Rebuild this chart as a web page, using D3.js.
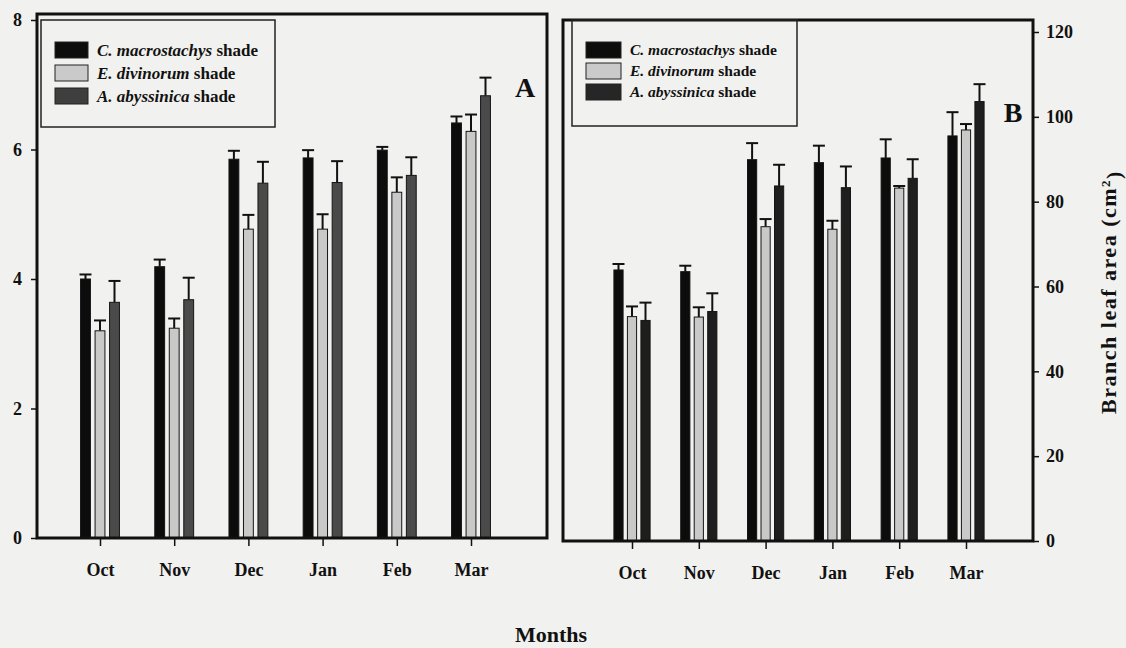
<!DOCTYPE html>
<html>
<head>
  <meta charset="utf-8">
  <style>
    html, body {
      margin: 0;
      overflow: hidden;
      background: #f1f1ef;
    }
    svg {
      display: block;
      font-family: "Liberation Serif", "Times New Roman", serif;
    }
    .frame {
      fill: none;
      stroke: #111;
      stroke-width: 3px;
    }
    .axis path {
      display: none;
    }
    .axis line {
      stroke: #111;
      stroke-width: 1.5px;
    }
    .axis text {
      font-family: "Liberation Serif", serif;
      font-weight: bold;
      fill: #111;
    }
    .err {
      stroke: #111;
      stroke-width: 2px;
    }
    .legend rect.box {
      fill: none;
      stroke: #222;
      stroke-width: 1.5px;
    }
  </style>
  <script src="https://d3js.org/d3.v7.min.js"></script>
</head>
<body>
  <svg id="chart" width="1126" height="648"></svg>
  <script>
    var months = ["Oct", "Nov", "Dec", "Jan", "Feb", "Mar"];
    var species = ["C. macrostachys", "E. divinorum", "A. abyssinica"];

    // panel A (left axis, 0-8)
    var aMacro = [4.00, 4.19, 5.85, 5.87, 5.99, 6.41];
    var aMacroErr = [0.07, 0.11, 0.13, 0.12, 0.05, 0.10];
    var aDivin = [3.20, 3.24, 4.77, 4.77, 5.34, 6.28];
    var aDivinErr = [0.16, 0.15, 0.22, 0.23, 0.23, 0.26];
    var aAbyss = [3.64, 3.68, 5.48, 5.49, 5.60, 6.83];
    var aAbyssErr = [0.33, 0.34, 0.33, 0.33, 0.28, 0.28];

    // panel B (branch leaf area, cm2)
    var bMacro = [63.9, 63.5, 89.9, 89.2, 90.3, 95.5];
    var bMacroErr = [1.4, 1.4, 3.9, 4.0, 4.4, 5.6];
    var bDivin = [52.9, 52.8, 74.1, 73.5, 83.2, 96.9];
    var bDivinErr = [2.4, 2.3, 1.8, 2.0, 0.5, 1.4];
    var bAbyss = [52.0, 54.1, 83.7, 83.3, 85.5, 103.6];
    var bAbyssErr = [4.2, 4.3, 5.0, 5.0, 4.5, 4.1];

    var ticksA = [0, 2, 4, 6, 8];
    var ticksB = [0, 20, 40, 60, 80, 100, 120];

    var svg = d3.select("#chart");

    function rows(means, errs) {
      var out = [];
      months.forEach(function(m, i) {
        species.forEach(function(s, j) {
          out.push({month: m, sp: s, v: means[j][i], e: errs[j][i]});
        });
      });
      return out;
    }

    function drawPanel(opt) {
      var g = svg.append("g");
      var x = d3.scalePoint().domain(months).range(opt.xRange);
      var inner = d3.scaleBand().domain(species)
        .range([-opt.groupW / 2, opt.groupW / 2])
        .paddingInner(0.32).paddingOuter(0.16);
      var y = d3.scaleLinear().domain(opt.yDomain).range(opt.yRange);

      var data = rows(opt.means, opt.errs);
      var cx = function(d) { return x(d.month) + inner(d.sp) + inner.bandwidth() / 2; };

      // error bars (upper only) behind bars
      var eb = g.selectAll(".eb").data(data).enter().append("g").attr("class", "eb");
      eb.append("line").attr("class", "err")
        .attr("x1", cx).attr("x2", cx)
        .attr("y1", function(d) { return y(d.v); })
        .attr("y2", function(d) { return y(d.v + d.e); });
      eb.append("line").attr("class", "err")
        .attr("x1", function(d) { return cx(d) - 6; })
        .attr("x2", function(d) { return cx(d) + 6; })
        .attr("y1", function(d) { return y(d.v + d.e); })
        .attr("y2", function(d) { return y(d.v + d.e); });

      g.selectAll(".bar").data(data).enter().append("rect")
        .attr("class", "bar")
        .attr("x", function(d) { return x(d.month) + inner(d.sp); })
        .attr("width", inner.bandwidth())
        .attr("y", function(d) { return y(d.v); })
        .attr("height", function(d) { return y(0) - y(d.v); })
        .attr("fill", function(d) { return opt.fills[species.indexOf(d.sp)]; })
        .attr("stroke", "#151515")
        .attr("stroke-width", 1);

      // frame
      g.append("rect").attr("class", "frame")
        .attr("x", opt.frame[0]).attr("y", opt.frame[1])
        .attr("width", opt.frame[2] - opt.frame[0])
        .attr("height", y(0) - opt.frame[1]);

      // month axis
      g.append("g").attr("class", "axis")
        .attr("transform", "translate(0," + y(0) + ")")
        .call(d3.axisBottom(x).tickSize(8).tickPadding(17))
        .selectAll("text").style("font-size", "18px");

      // value axis
      var ax = opt.side === "left"
        ? d3.axisLeft(y).tickValues(opt.ticks).tickSize(6).tickPadding(9)
        : d3.axisRight(y).tickValues(opt.ticks).tickSize(6).tickPadding(7);
      g.append("g").attr("class", "axis")
        .attr("transform", "translate(" + (opt.side === "left" ? opt.frame[0] : opt.frame[2]) + ",0)")
        .call(ax)
        .selectAll("text").style("font-size", "18px");

      // legend
      var lg = g.append("g").attr("class", "legend")
        .attr("transform", "translate(" + opt.legend.x + "," + opt.legend.y + ")");
      lg.append("rect").attr("class", "box")
        .attr("width", opt.legend.w).attr("height", opt.legend.h);
      species.forEach(function(s, i) {
        var row = lg.append("g").attr("transform", "translate(" + opt.legend.sx + "," + (opt.legend.top + i * opt.legend.gap) + ")");
        row.append("rect")
          .attr("width", opt.legend.sw).attr("height", 16)
          .attr("fill", opt.legendFills[i]).attr("stroke", "#222").attr("stroke-width", 1);
        var t = row.append("text")
          .attr("x", opt.legend.sw + 9).attr("y", 8).attr("dy", "0.35em")
          .style("font-size", opt.legend.fs + "px")
          .style("font-weight", "bold")
          .attr("fill", "#111");
        t.append("tspan").style("font-style", "italic").text(s);
        t.append("tspan").text(" shade");
      });

      g.append("text")
        .attr("x", opt.letter[0]).attr("y", opt.letter[1])
        .attr("text-anchor", "middle")
        .style("font-size", "28px").style("font-weight", "bold")
        .attr("fill", "#111")
        .text(opt.name);

      return g;
    }

    drawPanel({
      name: "A",
      means: [aMacro, aDivin, aAbyss],
      errs: [aMacroErr, aDivinErr, aAbyssErr],
      xRange: [100, 471],
      groupW: 43.5,
      yDomain: [0, 8],
      yRange: [538, 20],
      ticks: ticksA,
      side: "left",
      frame: [37, 14, 547],
      fills: ["#0c0c0c", "#c9c9c9", "#4a4a4a"],
      legendFills: ["#0c0c0c", "#cacaca", "#3e3e3e"],
      legend: {x: 41, y: 20, w: 234, h: 107, sx: 14, sw: 33, top: 22, gap: 23, fs: 17},
      letter: [525, 97]
    });

    drawPanel({
      name: "B",
      means: [bMacro, bDivin, bAbyss],
      errs: [bMacroErr, bDivinErr, bAbyssErr],
      xRange: [632, 966],
      groupW: 40.5,
      yDomain: [0, 120],
      yRange: [541, 32],
      ticks: ticksB,
      side: "right",
      frame: [563, 20, 1033],
      fills: ["#0c0c0c", "#c9c9c9", "#1e1e1e"],
      legendFills: ["#0c0c0c", "#cacaca", "#262626"],
      legend: {x: 572, y: 20, w: 225, h: 106, sx: 14, sw: 35, top: 22, gap: 21, fs: 15.5},
      letter: [1013, 122]
    });

    // right axis title
    var yt = svg.append("text")
      .attr("transform", "translate(1116,292) rotate(-90)")
      .attr("text-anchor", "middle")
      .style("font-size", "22px").style("font-weight", "bold")
      .style("letter-spacing", "1.5px")
      .attr("fill", "#111");
    yt.append("tspan").text("Branch leaf area (cm");
    yt.append("tspan").attr("dy", "-0.5em").style("font-size", "13px").text("2");
    yt.append("tspan").attr("dy", "0.5em").text(")");

    svg.append("text")
      .attr("x", 551).attr("y", 642)
      .attr("text-anchor", "middle")
      .style("font-size", "22px").style("font-weight", "bold")
      .attr("fill", "#111")
      .text("Months");
  </script>
</body>
</html>
